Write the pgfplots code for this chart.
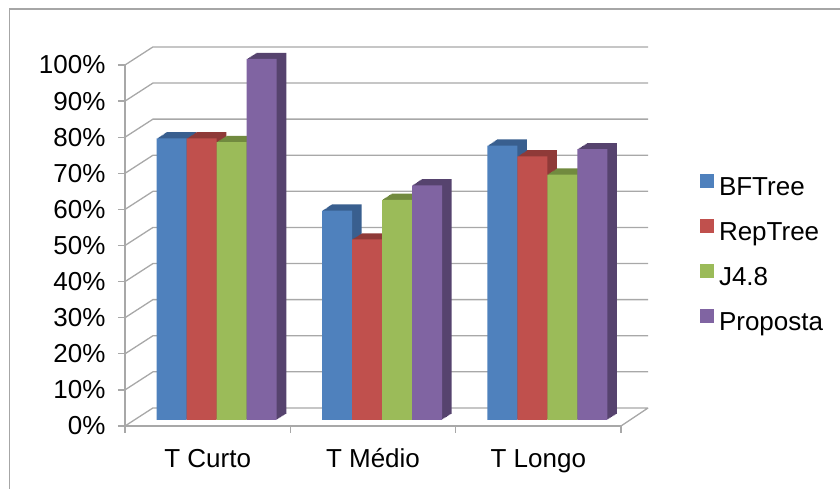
\documentclass[border=0pt]{standalone}
\usepackage{fontspec}
\setmainfont{Liberation Sans}
\usepackage{pgfplots}
\usepackage{pgfplotstable}
\pgfplotsset{compat=1.18}
\definecolor{cB}{HTML}{4F81BD}
\definecolor{cR}{HTML}{C0504D}
\definecolor{cG}{HTML}{9BBB59}
\definecolor{cP}{HTML}{8064A2}
\definecolor{dB}{HTML}{395F8F}
\definecolor{dR}{HTML}{8F3A38}
\definecolor{dG}{HTML}{718A3F}
\definecolor{dP}{HTML}{56436E}
\definecolor{gridc}{HTML}{A8A8A8}
\definecolor{framec}{HTML}{A6A6A6}

\pgfplotstableread{
x BF Rep J48 Prop
0.5 78 78 77 100
1.5 58 50 61 65
2.5 76 73 68 75
}\data

\begin{document}
\begin{tikzpicture}
\useasboundingbox (0,0) rectangle (840bp,489bp);
\draw[framec, line width=1.2bp] (9.5bp,-20bp) -- (9.5bp,480bp) -- (860bp,480bp);
\begin{axis}[
  at={(125bp,63bp)}, anchor=south west,
  scale only axis, width=496bp, height=361bp,
  xmin=0, xmax=3, ymin=0, ymax=100,
  clip=false,
  axis lines*=left,
  axis line style={-, draw=gridc, line width=1.3bp},
  tick align=outside,
  major tick length=7bp,
  every tick/.style={draw=gridc, line width=1.3bp},
  xtick={0,1,2,3}, xticklabels={,,,},
  extra x ticks={0.5,1.5,2.5},
  extra x tick labels={T Curto, T Médio, T Longo},
  extra x tick style={major tick length=0pt, every tick/.style={draw=none}},
  xticklabel style={yshift=-19bp, text height=19.2bp, text depth=5.5bp},
  ytick={0,10,...,100},
  yticklabels={0\%,10\%,20\%,30\%,40\%,50\%,60\%,70\%,80\%,90\%,100\%},
  yticklabel style={xshift=-9bp},
  tick label style={font=\fontsize{26bp}{30bp}\selectfont, text=black},
  legend style={at={(1.1593,0.6994)}, anchor=north west, draw=none, fill=none,
    inner sep=0pt, outer sep=0pt, row sep=17.5bp, column sep=5bp,
    font=\fontsize{26bp}{30bp}\selectfont,
    nodes={inner sep=0pt, text height=18bp, text depth=6bp}},
  legend cell align=left,
  legend image code/.code={\fill[#1] (-9bp,-4.5bp) rectangle (5bp,9.5bp);},
]
\addplot[gridc, line width=1.3bp, forget plot, unbounded coords=jump] coordinates {
 (0,0) (0.169,5) (3.164,5) (3.164,nan)
 (0,10) (0.169,15) (3.164,15) (3.164,nan)
 (0,20) (0.169,25) (3.164,25) (3.164,nan)
 (0,30) (0.169,35) (3.164,35) (3.164,nan)
 (0,40) (0.169,45) (3.164,45) (3.164,nan)
 (0,50) (0.169,55) (3.164,55) (3.164,nan)
 (0,60) (0.169,65) (3.164,65) (3.164,nan)
 (0,70) (0.169,75) (3.164,75) (3.164,nan)
 (0,80) (0.169,85) (3.164,85) (3.164,nan)
 (0,90) (0.169,95) (3.164,95) (3.164,nan)
 (0,100) (0.169,105) (3.164,105) (3.164,nan)
 (3,0) (3.164,5)
};
% BFTree
\pgfplotsinvokeforeach{8,7,...,1}{
\addplot[ybar, bar width=30bp, bar shift=-45bp, fill=dB, draw=none, forget plot,
  xshift={9bp+#1*1.2bp}, yshift={6bp+#1*0.78bp}] table[x=x,y=BF]{\data};
}
\addplot[ybar, bar width=30bp, bar shift=-45bp, fill=cB, draw=none,
  xshift=9bp, yshift=6bp] table[x=x,y=BF]{\data};
\addlegendentry{BFTree}
% RepTree
\pgfplotsinvokeforeach{8,7,...,1}{
\addplot[ybar, bar width=30bp, bar shift=-15bp, fill=dR, draw=none, forget plot,
  xshift={9bp+#1*1.2bp}, yshift={6bp+#1*0.78bp}] table[x=x,y=Rep]{\data};
}
\addplot[ybar, bar width=30bp, bar shift=-15bp, fill=cR, draw=none,
  xshift=9bp, yshift=6bp] table[x=x,y=Rep]{\data};
\addlegendentry{RepTree}
% J4.8
\pgfplotsinvokeforeach{8,7,...,1}{
\addplot[ybar, bar width=30bp, bar shift=15bp, fill=dG, draw=none, forget plot,
  xshift={9bp+#1*1.2bp}, yshift={6bp+#1*0.78bp}] table[x=x,y=J48]{\data};
}
\addplot[ybar, bar width=30bp, bar shift=15bp, fill=cG, draw=none,
  xshift=9bp, yshift=6bp] table[x=x,y=J48]{\data};
\addlegendentry{J4.8}
% Proposta
\pgfplotsinvokeforeach{8,7,...,1}{
\addplot[ybar, bar width=30bp, bar shift=45bp, fill=dP, draw=none, forget plot,
  xshift={9bp+#1*1.2bp}, yshift={6bp+#1*0.78bp}] table[x=x,y=Prop]{\data};
}
\addplot[ybar, bar width=30bp, bar shift=45bp, fill=cP, draw=none,
  xshift=9bp, yshift=6bp] table[x=x,y=Prop]{\data};
\addlegendentry{Proposta}
\end{axis}
\end{tikzpicture}
\end{document}
